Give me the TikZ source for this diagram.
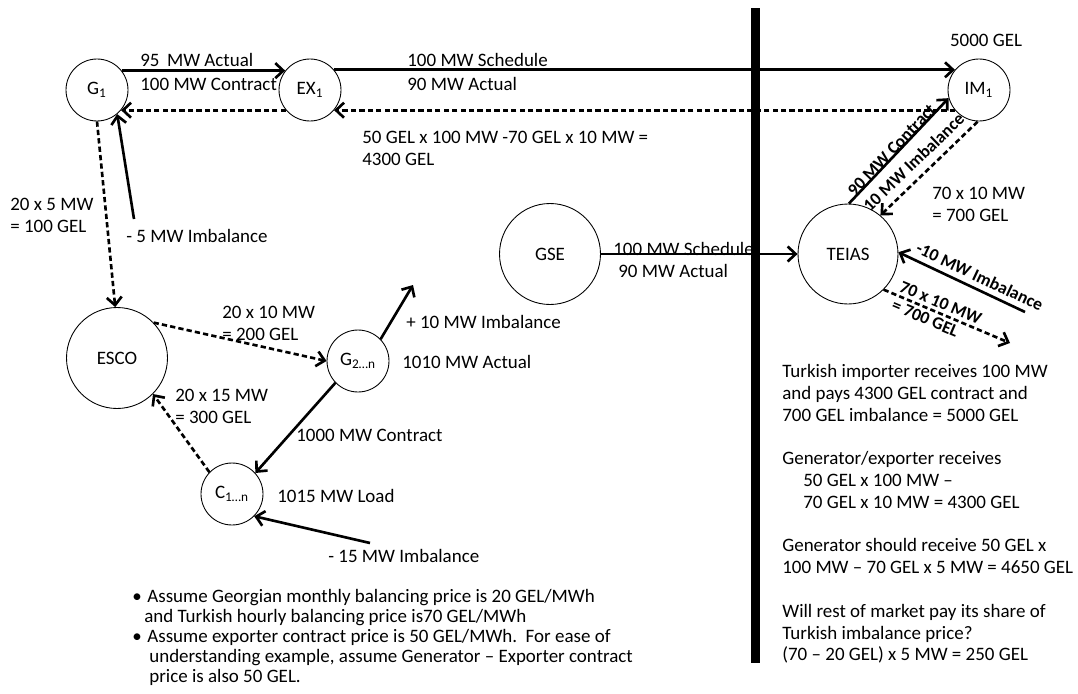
\documentclass[tikz,border=0pt]{standalone}
\usepackage{fontspec}
\setmainfont{Carlito}
\usetikzlibrary{arrows.meta, positioning}
\definecolor{cline}{HTML}{000000}
\definecolor{cfill}{HTML}{FFFFFF}

\begin{document}
\begin{tikzpicture}[
  x=0.02cm, y=-0.02cm,
  font=\fontsize{10.8}{12.6}\selectfont,
  >={Straight Barb[length=1.6mm, width=3mm]},
  party/.style={circle, draw=cline, fill=cfill, line width=0.5pt, inner sep=0pt,
                minimum size=1.24cm},
  bigparty/.style={party, minimum size=2.02cm},
  arr/.style={->, line width=1.5pt, draw=cline},
  pay/.style={arr, dash pattern=on 3pt off 1.8pt},
  lbl/.style={anchor=west, align=left, inner sep=0pt},
  slab/.style={font=\fontsize{10}{11.6}\selectfont\bfseries, sloped, inner sep=0pt},
  ]
\useasboundingbox (0,0) rectangle (1078,693);
% ---- border between the two markets
\fill[cline] (751,8) rectangle (760,663);
% ---- Georgian side
\node[party] (G1)  at (97,90)  {G\textsubscript{1}};
\node[party] (EX1) at (310,90) {EX\textsubscript{1}};
\node[bigparty] (ESCO) at (117,358) {ESCO};
\node[party] (G2)  at (358,361) {G\textsubscript{2…n}};
\node[party] (C1)  at (232,494) {C\textsubscript{1…n}};
\node[bigparty] (GSE) at (550,254) {GSE};
% ---- Turkish side
\node[party] (IM1) at (979,90) {IM\textsubscript{1}};
\node[bigparty, minimum size=2cm] (TEIAS) at (848,254) {TEIAS};
% free ends
\coordinate (imbG1) at (134,219);
\coordinate (imbG2) at (413,285);
\coordinate (imbC1) at (370,543);
\coordinate (imbT)  at (1025,312);
\coordinate (payT)  at (1010,343);
% arrows top row
\draw[arr] (G1.38) -- (EX1.142);
\draw[arr] (EX1.40) -- (IM1.140);
\draw[pay] (IM1.220) -- (EX1.-40);
\draw[pay] (EX1.220) -- (G1.-40);
% arrows Georgian market
\draw[pay] (G1.south) -- (ESCO.92);
\draw[arr] (imbG1) -- (G1.-50);
\draw[pay] (ESCO.44) -- (G2.west);
\draw[arr] (G2.44) -- (imbG2);
\draw[arr] (G2.224) -- (C1.42);
\draw[pay] (C1.136) -- (ESCO.-45);
\draw[arr] (imbC1) -- (C1.-45);
\draw[arr] (GSE.east) -- (TEIAS.west);
% arrows Turkish market
\draw[arr] (TEIAS.89) -- node[slab, anchor=base, pos=0.47] (lblC) {90 MW Contract} (IM1.195);
\draw[pay, <-] (TEIAS.50) -- node[slab, above=4.5pt, pos=0.45] (lblI) {10 MW Imbalance} (IM1.-92);
\draw[arr, <-] (TEIAS.2) -- node[slab, above=3pt, pos=0.6] (lblT) {-10 MW Imbalance} (imbT);
\draw[pay] (TEIAS.-45) -- node[slab, pos=0.42, align=left] (lblP) {70 x 10 MW\\= 700 GEL} (payT);
% labels
\node[lbl] (l1)  at (140,60)  {95\, MW Actual};
\node[lbl] (l2)  at (140,84)  {100 MW Contract};
\node[lbl] (l3)  at (407,60)  {100 MW Schedule};
\node[lbl] (l4)  at (407,84)  {90 MW Actual};
\node[lbl] (l5)  at (362,148) {50 GEL x 100 MW -70 GEL x 10 MW =\\4300 GEL};
\node[lbl] (l6)  at (10,215)  {20 x 5 MW\\= 100 GEL};
\node[lbl] (l7)  at (126,236) {- 5 MW Imbalance};
\node[anchor=center, inner sep=0pt] (l8) at (986,40) {5000 GEL};
\node[lbl] (l9)  at (613,249) {100 MW Schedule};
\node[lbl] (l10) at (618,271) {90 MW Actual};
\node[lbl] (l11) at (932,204) {70 x 10 MW\\= 700 GEL};
\node[lbl] (l12) at (222,323) {20 x 10 MW\\= 200 GEL};
\node[lbl] (l13) at (406,322) {+ 10 MW Imbalance};
\node[lbl] (l14) at (402,362) {1010 MW Actual};
\node[lbl] (l15) at (175,406) {20 x 15 MW\\= 300 GEL};
\node[lbl] (l16) at (296,435) {1000 MW Contract};
\node[lbl] (l17) at (277,496) {1015 MW Load};
\node[lbl] (l18) at (328,556) {- 15 MW Imbalance};
% notes
\node[lbl, font=\fontsize{10.8}{12.4}\selectfont] (note) at (782,514)
  {Turkish importer receives 100 MW\\and pays 4300 GEL contract and\\700 GEL imbalance = 5000 GEL\\[12.4pt]
   Generator/exporter receives\\\hspace*{0.42cm}50 GEL x 100 MW –\\\hspace*{0.42cm}70 GEL x 10 MW = 4300 GEL\\[12.4pt]
   Generator should receive 50 GEL x\\100 MW – 70 GEL x 5 MW = 4650 GEL\\[12.4pt]
   Will rest of market pay its share of\\Turkish imbalance price?\\(70 – 20 GEL) x 5 MW = 250 GEL};
\node[lbl, font=\fontsize{10.8}{11.4}\selectfont] (assume) at (132,637)
  {\makebox[0.3cm][l]{\textbullet}Assume Georgian monthly balancing price is 20 GEL/MWh\\
   \hspace*{0.24cm}and Turkish hourly balancing price is70 GEL/MWh\\
   \makebox[0.3cm][l]{\textbullet}Assume exporter contract price is 50 GEL/MWh.\ \ For ease of\\
   \hspace*{0.34cm}understanding example, assume Generator – Exporter contract\\
   \hspace*{0.34cm}price is also 50 GEL.};
\end{tikzpicture}
\end{document}
